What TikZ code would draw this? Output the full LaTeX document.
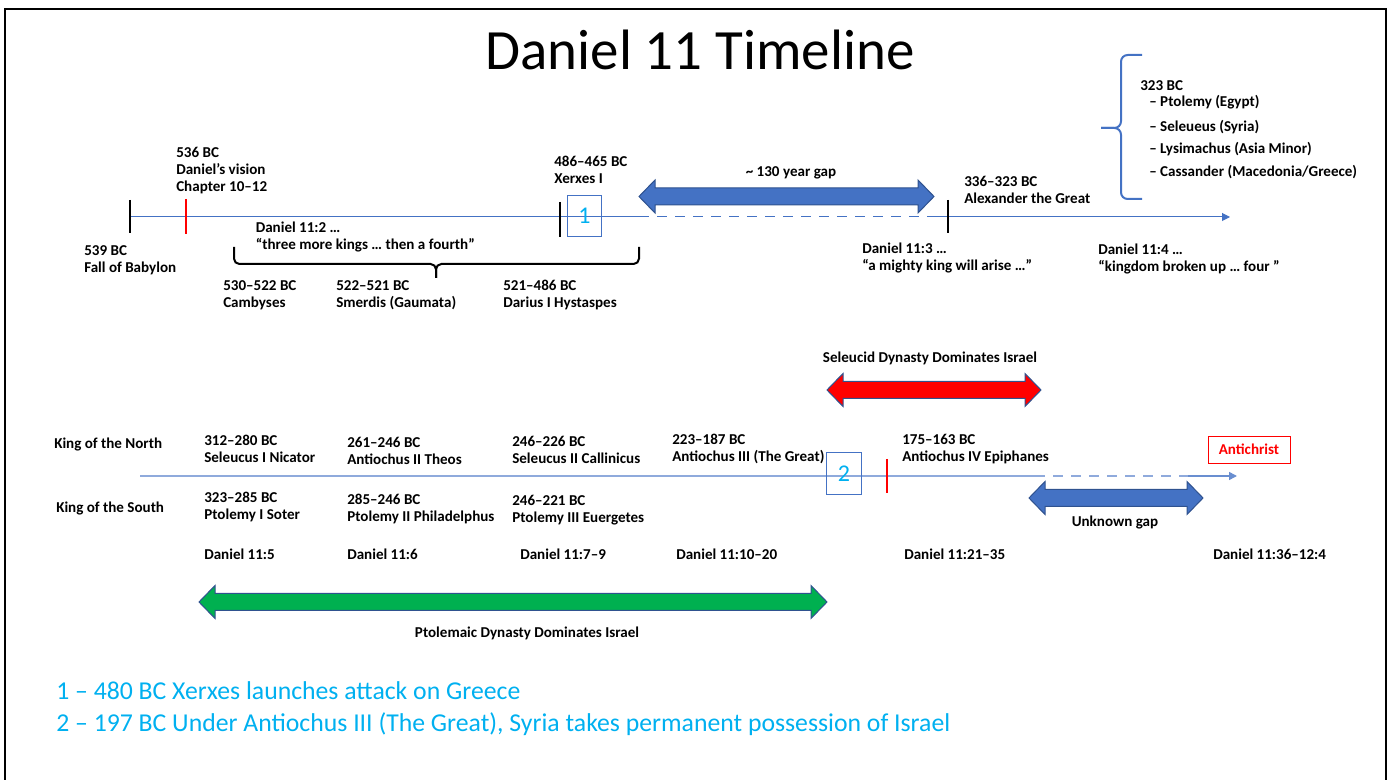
\documentclass[tikz,border=0pt]{standalone}
\usepackage{fontspec}
\setmainfont{Carlito}
\usepackage{tikz}
\usetikzlibrary{arrows.meta}
\definecolor{dnblue}{HTML}{4472C4}
\definecolor{dnlight}{HTML}{8FAADC}
\definecolor{dnedge}{HTML}{2F528F}
\definecolor{dncyan}{HTML}{00B0F0}
\definecolor{dngreen}{HTML}{00B050}
\newcommand{\gaparrow}[4]{% style, left tip, right tip, y
  \draw[#1] (#2,#4) -- ({#2+16},{#4-16.5}) -- ({#2+16},{#4-8.5}) -- ({#3-16},{#4-8.5})%
    -- ({#3-16},{#4-16.5}) -- (#3,#4) -- ({#3-16},{#4+16.5}) -- ({#3-16},{#4+8.5})%
    -- ({#2+16},{#4+8.5}) -- ({#2+16},{#4+16.5}) -- cycle;}

\begin{document}
\begin{tikzpicture}[x=0.75pt,y=-0.75pt,
 lbl/.style={font=\bfseries\fontsize{11.3}{13.1}\selectfont,align=left,inner sep=0pt,anchor=base west},
 mid/.style={lbl,anchor=base},
 title/.style={font=\fontsize{42.7}{48}\selectfont,inner sep=0pt,anchor=base},
 note/.style={font=\fontsize{19.3}{23}\selectfont,text=dncyan,inner sep=0pt,anchor=base west},
 tline/.style={draw=dnblue,line width=0.75pt},
 bline/.style={draw=dnlight,line width=1.1pt},
 gapdash/.style={dash pattern=on 7.5pt off 6pt},
 tick/.style={line width=1.5pt},
 numbox/.style={draw=dnblue,line width=0.6pt,minimum width=26pt,minimum height=31pt,%
   inner sep=0pt,text=dncyan,font=\fontsize{18}{18}\selectfont},
 antibox/.style={draw=red,line width=0.6pt,minimum width=61.5pt,minimum height=20.25pt,%
   inner sep=0pt,text=red,font=\bfseries\fontsize{11.3}{13.1}\selectfont},
 blk/.style={draw=dnedge,line width=0.75pt},
 brk/.style={line width=1.5pt,rounded corners=4pt},
 bluebrk/.style={draw=dnblue,line width=1.5pt,rounded corners=5pt}]
\useasboundingbox (0,0) rectangle (1390,780);
\draw[line width=1.5pt] (5,9) rectangle (1386,800);
\node[title] (title) at (700,70) {Daniel 11 Timeline};

% first timeline (labels sit on the baseline of their last line)
\coordinate (ta) at (130,217);
\coordinate (tb) at (639,217);
\coordinate (tc) at (934,217);
\coordinate (td) at (1230,217);
\draw[tline] (ta)--(tb);
\draw[tline,gapdash] (tb)--(tc);
\draw[tline,-{Triangle[length=6pt,width=6pt]}] (tc)--(td);
\draw[tick] (130,200)--(130,233);
\draw[tick,red] (186,199)--(186,234);
\draw[tick] (560,202)--(560,237);
\draw[tick] (948,200)--(948,233);
\node[numbox] (box1) at (584.5,216) {1};
\gaparrow{blk,fill=dnblue}{639}{934}{196.5}

\node[lbl] (vision) at (176,192) {536 BC\\Daniel’s vision\\Chapter 10–12};
\node[lbl] (xerxes) at (554,184) {486–465 BC\\Xerxes I};
\node[mid] (gap130) at (791,177) {\textasciitilde{} 130 year gap};
\node[lbl] (alex) at (964,204) {336–323 BC\\Alexander the Great};
\node[lbl] (split) at (1140,91) {323 BC};
\node[lbl] (ptolemy) at (1149,107) {– Ptolemy (Egypt)};
\node[lbl] (seleu) at (1149,132) {– Seleueus (Syria)};
\node[lbl] (lysim) at (1149,154) {– Lysimachus (Asia Minor)};
\node[lbl] (cassan) at (1149,177) {– Cassander (Macedonia/Greece)};
\draw[bluebrk] (1142,55) -| (1121,128) -- (1101,128);
\draw[bluebrk] (1142,199) -| (1121,128) -- (1101,128);
\node[lbl] (babylon) at (84,273) {539 BC\\Fall of Babylon};
\node[lbl] (dan2) at (255.5,250) {Daniel 11:2 …\\“three more kings … then a fourth”};
\draw[brk] (234,247) |- (436,264) -- (436,278);
\draw[brk] (639,247) |- (436,264) -- (436,278);
\node[lbl] (cambys) at (223,308) {530–522 BC\\Cambyses};
\node[lbl] (smerd) at (336,308) {522–521 BC\\Smerdis (Gaumata)};
\node[lbl] (darius) at (503,308) {521–486 BC\\Darius I Hystaspes};
\node[lbl] (dan3) at (862,271) {Daniel 11:3 …\\“a mighty king will arise …”};
\node[lbl] (dan4) at (1098,272) {Daniel 11:4 …\\“kingdom broken up … four ”};

% second timeline
\node[mid] (seltxt) at (930,363) {Seleucid Dynasty Dominates Israel};
\gaparrow{blk,fill=red}{827}{1041}{390}
\coordinate (sa) at (140,476);
\coordinate (sb) at (1035,476);
\coordinate (sc) at (1188,476);
\coordinate (sd) at (1237,476);
\draw[bline] (sa)--(sb);
\draw[bline,gapdash] (sb)--(sc);
\draw[bline,draw=dnblue!80,-{Triangle[length=6pt,width=6pt]}] (sc)--(sd);
\node[numbox] (box2) at (844,473.5) {2};
\draw[tick,red] (887,459)--(887,493);
\node[antibox] (anti) at (1249,449.5) {Antichrist};
\gaparrow{blk,fill=dnblue}{1029}{1203}{498}
\node[mid] (unknown) at (1115,527) {Unknown gap};

\node[lbl] (north) at (54,449) {King of the North};
\node[lbl] (south) at (56,513) {King of the South};
\node[lbl] (kn1) at (204,463) {312–280 BC\\Seleucus I Nicator};
\node[lbl] (kn2) at (347,465) {261–246 BC\\Antiochus II Theos};
\node[lbl] (kn3) at (512,464) {246–226 BC\\Seleucus II Callinicus};
\node[lbl] (kn4) at (672,462) {223–187 BC\\Antiochus III (The Great)};
\node[lbl] (kn5) at (902,462) {175–163 BC\\Antiochus IV Epiphanes};
\node[lbl] (ks1) at (204,520) {323–285 BC\\Ptolemy I Soter};
\node[lbl] (ks2) at (347,522) {285–246 BC\\Ptolemy II Philadelphus};
\node[lbl] (ks3) at (512,523) {246–221 BC\\Ptolemy III Euergetes};

\node[lbl] (ref5) at (204,560) {Daniel 11:5};
\node[lbl] (ref6) at (347,560) {Daniel 11:6};
\node[lbl] (ref7) at (520,560) {Daniel 11:7–9};
\node[lbl] (ref10) at (676,560) {Daniel 11:10–20};
\node[lbl] (ref21) at (904,560) {Daniel 11:21–35};
\node[lbl] (ref36) at (1213,560) {Daniel 11:36–12:4};

\gaparrow{blk,fill=dngreen}{199}{827}{602}
\node[mid] (ptoltxt) at (527,638) {Ptolemaic Dynasty Dominates Israel};

\node[note] (note1) at (56,699) {1 – 480 BC Xerxes launches attack on Greece};
\node[note] (note2) at (56,731) {2 – 197 BC Under Antiochus III (The Great), Syria takes permanent possession of Israel};
\end{tikzpicture}
\end{document}
